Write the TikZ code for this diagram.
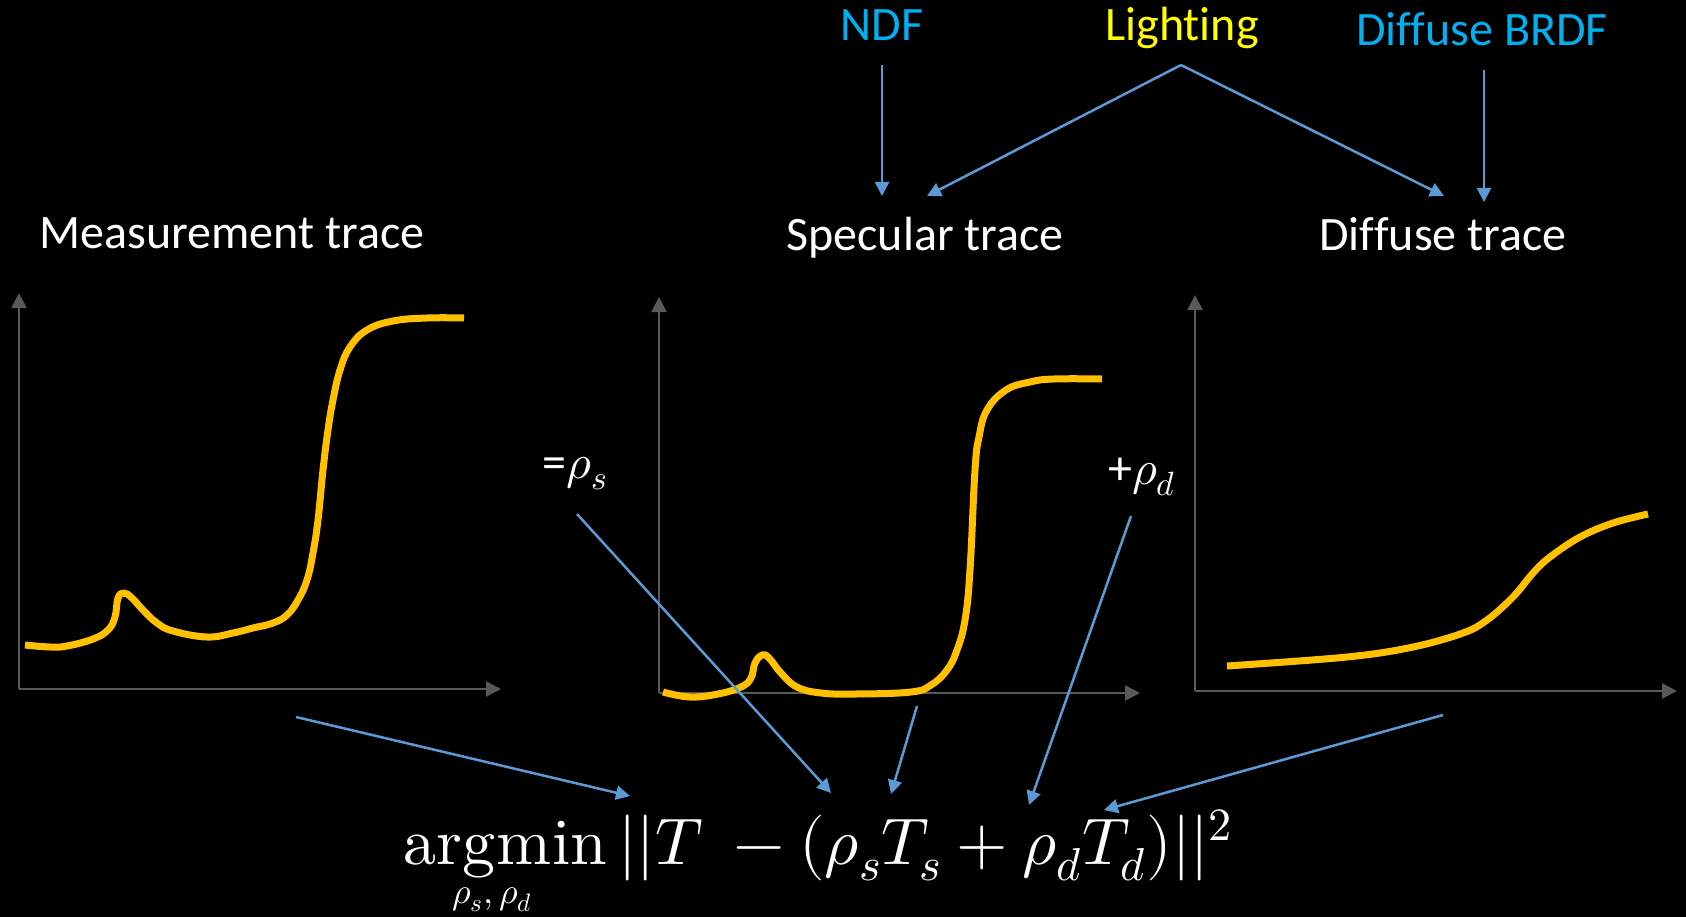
\documentclass[tikz,border=0pt]{standalone}
\usepackage{fontspec}
\usepackage{unicode-math}
\setmainfont{Carlito}[Ligatures=NoCommon]
\setmathfont{Latin Modern Math}
\usetikzlibrary{arrows.meta}
\definecolor{arrowblue}{HTML}{5B9BD5}
\definecolor{labelcyan}{HTML}{00B0F0}
\definecolor{labelyellow}{HTML}{FFFF00}
\definecolor{traceorange}{HTML}{FFC000}
\definecolor{axisgray}{HTML}{595959}
\begin{document}
\begin{tikzpicture}[x=1pt,y=-1pt,
  lbl/.style={inner sep=0pt, font=\fontsize{48}{56}\selectfont, anchor=base},
  arr/.style={draw=arrowblue, line width=2.5pt, -{Triangle[length=14pt,width=14pt]}},
  axisline/.style={draw=axisgray, line width=2.5pt, -{Triangle[length=15pt,width=15pt]}},
  trace/.style={draw=traceorange, line width=7pt, line cap=butt, line join=round}]
\useasboundingbox (0,0) rectangle (1686,917);
\fill[black] (0,0) rectangle (1686,917);

% labels
\node[lbl, text=labelcyan] (ndf) at (882,41) {NDF};
\node[lbl, text=labelyellow] (light) at (1182,41) {Lighting};
\node[lbl, text=labelcyan] (brdf) at (1482,46) {Diffuse BRDF};
\node[lbl, text=white] (meas) at (232,249) {Measurement trace};
\node[lbl, text=white] (spec) at (925,251) {Specular trace};
\node[lbl, text=white] (diff) at (1443,251) {Diffuse trace};
\node[lbl, text=white] (rs) at (575,478) {=$\rho_s$};
\node[lbl, text=white] (rd) at (1142,484) {+$\rho_d$};
\node[inner sep=0pt, text=white, anchor=base west, font=\fontsize{66}{74}\selectfont] (eq) at (403,864)
  {$\symup{argmin}\,||T\ -(\rho_sT_s+\rho_dT_d)||^2$};
\node[inner sep=0pt, text=white, anchor=base, font=\fontsize{36}{42}\selectfont] (eqsub) at (492,903)
  {$\rho_s,\rho_d$};

% axes
\coordinate (o1) at (19,689); \coordinate (y1) at (19,293); \coordinate (x1) at (501,689);
\coordinate (o2) at (659,693); \coordinate (y2) at (659,297); \coordinate (x2) at (1140,693);
\coordinate (o3) at (1195,691); \coordinate (y3) at (1195,295); \coordinate (x3) at (1677,691);
\draw[axisline] (o1) -- (y1); \draw[axisline] (o1) -- (x1);
\draw[axisline] (o2) -- (y2); \draw[axisline] (o2) -- (x2);
\draw[axisline] (o3) -- (y3); \draw[axisline] (o3) -- (x3);

% traces
\draw[trace] plot[smooth, tension=0.7] coordinates {(25,645) (50,647) (67,646) (93,639) (108,630) (115,617) (118,598) (124,593) (132,598) (143,610) (157,623) (173,631) (207,637) (233,633) (253,628) (273,623) (287,615) (298,600) (307,580) (313,553) (318,520) (323,470) (328,430) (333,400) (340,370) (350,347) (367,330) (393,321) (427,318) (464,318)};
\draw[trace] plot[smooth, tension=0.7] coordinates {(663,692) (690,697) (718,694) (741,687) (751,678) (755,663) (762,655) (769,658) (781,673) (797,687) (821,693) (856,694) (911,692) (931,685) (947,670) (957,650) (965,620) (970,570) (975,470) (979,437) (987,410) (1006,390) (1030,382) (1054,379) (1102,379)};
\draw[trace] plot[smooth, tension=0.6] coordinates {(1227,666) (1347,657) (1413,647) (1463,633) (1487,620) (1513,597) (1533,573) (1550,557) (1580,537) (1613,523) (1648,514)};

% arrow end points
\coordinate (ndfS) at (882,65);   \coordinate (specA) at (882,196);
\coordinate (lightS) at (1181,65); \coordinate (specB) at (927,196); \coordinate (diffA) at (1444,196);
\coordinate (brdfS) at (1484,70); \coordinate (diffB) at (1484,202);
\coordinate (measS) at (296,717); \coordinate (eqT) at (630,796);
\coordinate (rsS) at (577,514);   \coordinate (eqRs) at (831,793);
\coordinate (specS) at (917,706); \coordinate (eqTs) at (891,794);
\coordinate (rdS) at (1131,516);  \coordinate (eqRd) at (1029,805);
\coordinate (diffS) at (1443,715); \coordinate (eqTd) at (1104,810);

\draw[arr] (ndfS) -- (specA);
\draw[arr] (lightS) -- (specB);
\draw[arr] (lightS) -- (diffA);
\draw[arr] (brdfS) -- (diffB);
\draw[arr] (measS) -- (eqT);
\draw[arr] (rsS) -- (eqRs);
\draw[arr] (specS) -- (eqTs);
\draw[arr] (rdS) -- (eqRd);
\draw[arr] (diffS) -- (eqTd);
\end{tikzpicture}
\end{document}
